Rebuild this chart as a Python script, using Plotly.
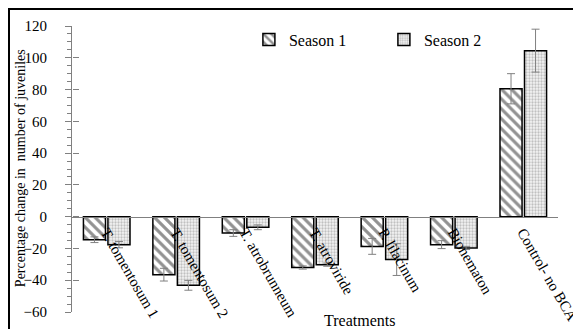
import plotly.graph_objects as go

categories = ["T. tomentosum 1", "T. tomentosum 2", "T. atrobrunneum", "T. atroviride",
              "P. lilacinum", "Bionematon", "Control- no BCA"]
season1 = [-14.5, -36.5, -10.3, -32.0, -18.7, -17.6, 80.5]
season1_err = [1.8, 4.0, 2.1, 1.0, 5.0, 2.5, 9.5]
season2 = [-17.6, -43.2, -6.7, -30.2, -27.0, -19.7, 104.5]
season2_err = [2.0, 3.1, 1.5, 1.0, 10.0, 1.0, 13.5]
y_ticks = [-60, -40, -20, 0, 20, 40, 60, 80, 100, 120]

FONT = "Liberation Serif, Times New Roman, serif"

fig = go.Figure()
fig.add_trace(go.Bar(
    name="Season 1", x=categories, y=season1,
    error_y=dict(type="data", array=season1_err, color="#808080", thickness=1, width=4),
    marker=dict(color="white", line=dict(color="black", width=1.5),
                pattern=dict(shape="\\", fgcolor="#262626", bgcolor="white", size=7, solidity=0.45)),
))
fig.add_trace(go.Bar(
    name="Season 2", x=categories, y=season2,
    error_y=dict(type="data", array=season2_err, color="#808080", thickness=1, width=4),
    marker=dict(color="white", line=dict(color="black", width=1.5),
                pattern=dict(shape=".", fgcolor="#8c8c8c", bgcolor="#f4f4f4", size=3, solidity=0.45)),
))

# page body adds an 8px offset; layout below compensates so the plot lands at x 72-558, y 26-312
fig.update_layout(
    width=573, height=321,
    margin=dict(l=64, r=23, t=18, b=17),
    paper_bgcolor="white", plot_bgcolor="white",
    barmode="group", bargap=0.294, bargroupgap=0.1,
    font=dict(family=FONT, color="black", size=15),
    showlegend=True,
    legend=dict(orientation="h", x=0.364, y=1.012, xanchor="left", yanchor="top",
                font=dict(family=FONT, size=16), entrywidth=90, entrywidthmode="pixels",
                bgcolor="rgba(0,0,0,0)"),
    xaxis=dict(anchor="free", position=1/3, showline=True, linecolor="#808080", linewidth=1,
               ticks="", tickangle=60, automargin=False, showgrid=False,
               tickfont=dict(family=FONT, size=15, color="black")),
    yaxis=dict(range=[-60, 120], tickvals=y_ticks, showline=True, linecolor="#808080", linewidth=1,
               ticks="outside", ticklen=6, tickcolor="#808080", showgrid=False, zeroline=False,
               minor=dict(dtick=5, ticks="outside", ticklen=4, tickcolor="#808080"),
               ticklabelstandoff=15, automargin=False,
               tickfont=dict(family=FONT, size=15, color="black")),
    yaxis2=dict(range=[-60, 120], tickvals=y_ticks, overlaying="y", side="left", anchor="free",
                position=0, ticks="inside", ticklen=6, tickcolor="#808080", showticklabels=False,
                showgrid=False, zeroline=False, showline=False, automargin=False),
)

# invisible trace to activate yaxis2 (inner half of the crossing major ticks)
fig.add_trace(go.Scatter(x=[categories[0]], y=[0], yaxis="y2", mode="markers",
                         marker=dict(opacity=0), showlegend=False, hoverinfo="skip"))

fig.add_annotation(text="Percentage change in  number of juveniles", xref="paper", yref="paper",
                   x=(20 - 72) / 486, y=0.503, xanchor="center", yanchor="middle", textangle=-90,
                   showarrow=False, font=dict(family=FONT, size=14))
fig.add_annotation(text="Treatments", xref="paper", yref="paper",
                   x=(359 - 72) / 486, y=(312 - 320) / 286, xanchor="center", yanchor="middle",
                   showarrow=False, font=dict(family=FONT, size=16))

fig.add_shape(type="rect", xref="paper", yref="paper",
              x0=(9 - 72) / 486, x1=1.2, y0=-0.2, y1=(312 - 9) / 286,
              line=dict(color="black", width=2), fillcolor="rgba(0,0,0,0)")

fig.write_html("out.html")
